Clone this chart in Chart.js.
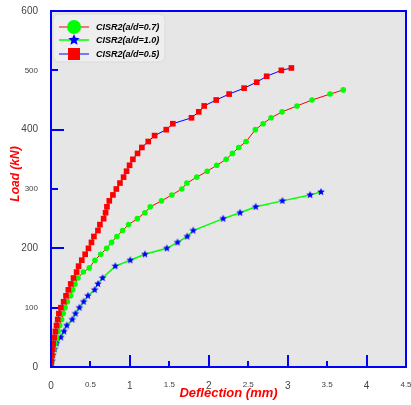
<!DOCTYPE html>
<html>
<head>
<meta charset="utf-8">
<script src="https://cdn.jsdelivr.net/npm/chart.js@4"></script>
<style>
  body { margin: 0; background: #fff; }
  canvas { display: block; }
</style>
</head>
<body>
<canvas id="chart" width="411" height="405"></canvas>
<script>
// Series labels
const seriesNames = ["CISR2(a/d=0.7)", "CISR2(a/d=1.0)", "CISR2(a/d=0.5)"];

// a/d = 0.7 (green circles, red line)
const load07 = [0, 10, 20, 30, 40, 50, 60, 70, 80, 90, 100, 110, 120, 130, 140, 150, 160, 167, 180, 190,
    200, 210, 220, 230, 240, 250, 260, 270, 280, 290, 300, 310, 320, 330, 340, 350, 360, 370, 380,
    400, 410, 420, 430, 440, 450, 460, 467];
const defl07 = [0, 0.008, 0.02, 0.035, 0.05, 0.07, 0.09, 0.11, 0.135, 0.155, 0.178, 0.207, 0.249, 0.275, 0.304, 0.342, 0.41, 0.486, 0.557, 0.63,
    0.705, 0.768, 0.835, 0.908, 0.984, 1.094, 1.19, 1.258, 1.401, 1.532, 1.658, 1.722, 1.848, 1.98, 2.101, 2.22, 2.30, 2.38, 2.473,
    2.591, 2.688, 2.79, 2.929, 3.119, 3.309, 3.537, 3.705];

// a/d = 1.0 (blue stars, green line)
const load10 = [0, 10, 20, 30, 40, 50, 60, 70, 80, 90, 100, 110, 120, 130, 140, 150, 170, 180, 190,
    200, 210, 220, 230, 250, 260, 270, 280, 290, 295];
const defl10 = [0, 0.013, 0.025, 0.045, 0.07, 0.125, 0.165, 0.2, 0.27, 0.31, 0.36, 0.414, 0.468, 0.553, 0.595, 0.654, 0.815, 1.005, 1.19,
    1.468, 1.604, 1.727, 1.803, 2.182, 2.397, 2.595, 2.933, 3.284, 3.423];

// a/d = 0.5 (red squares, blue line)
const load05 = [0, 10, 20, 30, 40, 50, 60, 70, 80, 90, 100, 110, 120, 130, 140, 150, 160, 170, 180, 190,
    200, 210, 220, 230, 240, 250, 260, 270, 280, 290, 300, 310, 320, 330, 340, 350, 360, 370, 380, 390,
    400, 410, 420, 430, 440, 450, 460, 470, 480, 490, 500, 504];
const defl05 = [0, 0.005, 0.012, 0.02, 0.028, 0.04, 0.055, 0.07, 0.085, 0.1, 0.125, 0.16, 0.19, 0.22, 0.25, 0.285, 0.325, 0.35, 0.39, 0.433,
    0.475, 0.513, 0.544, 0.595, 0.62, 0.667, 0.692, 0.709, 0.739, 0.785, 0.828, 0.874, 0.92, 0.958, 0.996, 1.038, 1.097, 1.152, 1.233, 1.313,
    1.461, 1.544, 1.781, 1.873, 1.942, 2.094, 2.258, 2.448, 2.608, 2.734, 2.92, 3.047];

// Axis ranges
const xMin = 0, xMax = 4.5, xStep = 0.5;
const yMin = 0, yMax = 600, yStep = 100;
const xTitle = "Deflection (mm)";
const yTitle = "Load (kN)";

function toPoints(xs, ys) {
    return xs.map((x, i) => ({ x: x, y: ys[i] }));
}

// Filled star drawn on a small canvas, used as point style
function makeStar(r, color) {
    const c = document.createElement("canvas");
    const s = Math.ceil(r * 2) + 2;
    c.width = s;
    c.height = s;
    const g = c.getContext("2d");
    g.fillStyle = color;
    g.beginPath();
    for (let i = 0; i < 10; i++) {
        const rad = i % 2 === 0 ? r : r * 0.45;
        const a = -Math.PI / 2 + i * Math.PI / 5;
        g.lineTo(s / 2 + rad * Math.cos(a), s / 2 + rad * Math.sin(a));
    }
    g.closePath();
    g.fill();
    return c;
}

const starSmall = makeStar(4, "#0000ff");
const starLegend = makeStar(6, "#0000ff");

const AXIS_BLUE = "#0000ff";
const FONT = "'Liberation Sans', Arial, sans-serif";

// Background, inner ticks, frame, legend and titles
const framePlugin = {
    id: "frame",
    beforeDraw(chart) {
        const ctx = chart.ctx;
        const a = chart.chartArea;
        ctx.save();
        ctx.fillStyle = "#ffffff";
        ctx.fillRect(0, 0, chart.width, chart.height);
        ctx.fillStyle = "#e6e6e6";
        ctx.fillRect(a.left, a.top, a.right - a.left, a.bottom - a.top);
        ctx.restore();
    },
    afterDraw(chart) {
        const ctx = chart.ctx;
        const a = chart.chartArea;
        const xs = chart.scales.x;
        const ys = chart.scales.y;
        ctx.save();

        // ticks pointing into the plot
        ctx.strokeStyle = AXIS_BLUE;
        ctx.lineWidth = 2;
        xs.ticks.forEach(t => {
            const px = Math.round(xs.getPixelForValue(t.value));
            const len = t.value % 1 === 0 ? 12 : 6;
            ctx.beginPath();
            ctx.moveTo(px, a.bottom);
            ctx.lineTo(px, a.bottom - len);
            ctx.stroke();
        });
        ys.ticks.forEach(t => {
            const py = Math.round(ys.getPixelForValue(t.value));
            const len = t.value % 200 === 0 ? 13 : 7;
            ctx.beginPath();
            ctx.moveTo(a.left, py);
            ctx.lineTo(a.left + len, py);
            ctx.stroke();
        });

        // frame
        ctx.strokeRect(a.left, a.top, a.right - a.left, a.bottom - a.top);

        // legend
        const lx = 53, ly = 14, lw = 112, lh = 48;
        ctx.fillStyle = "#eeeeee";
        ctx.strokeStyle = "#dadada";
        ctx.lineWidth = 1;
        ctx.beginPath();
        ctx.roundRect(lx, ly, lw, lh, 6);
        ctx.fill();
        ctx.stroke();

        const rowY = [27, 40, 54];
        chart.data.datasets.forEach((ds, i) => {
            const y = rowY[i];
            ctx.strokeStyle = ds.borderColor;
            ctx.lineWidth = ds.borderWidth;
            ctx.beginPath();
            ctx.moveTo(59, y);
            ctx.lineTo(89, y);
            ctx.stroke();
            ctx.fillStyle = ds.pointBackgroundColor;
            if (ds.pointStyle === "circle") {
                ctx.beginPath();
                ctx.arc(74, y, 7, 0, Math.PI * 2);
                ctx.fill();
            } else if (ds.pointStyle === "rect") {
                ctx.fillRect(68, y - 6, 12, 12);
            } else {
                ctx.drawImage(starLegend, 74 - starLegend.width / 2, y - starLegend.height / 2);
            }
            ctx.fillStyle = "#000000";
            ctx.font = "italic bold 9px " + FONT;
            ctx.textAlign = "left";
            ctx.textBaseline = "middle";
            ctx.fillText(ds.label, 96, y + 0.5);
        });

        // axis titles
        ctx.fillStyle = "#ff0000";
        ctx.textAlign = "center";
        ctx.textBaseline = "middle";
        ctx.font = "italic bold 13px " + FONT;
        ctx.fillText(xTitle, (a.left + a.right) / 2, 393);
        ctx.save();
        ctx.translate(16, 174);
        ctx.rotate(-Math.PI / 2);
        ctx.font = "italic bold 12px " + FONT;
        ctx.fillText(yTitle, 0, 0);
        ctx.restore();

        ctx.restore();
    }
};

const ctx = document.getElementById("chart").getContext("2d");

new Chart(ctx, {
    type: "scatter",
    data: {
        datasets: [
            {
                label: seriesNames[0],
                data: toPoints(defl07, load07),
                showLine: true,
                borderColor: "#ff0000",
                borderWidth: 1,
                pointStyle: "circle",
                pointRadius: 2.8,
                pointBorderWidth: 0,
                pointBackgroundColor: "#00ff00",
                order: 1
            },
            {
                label: seriesNames[1],
                data: toPoints(defl10, load10),
                showLine: true,
                borderColor: "#00ff00",
                borderWidth: 1.5,
                pointStyle: starSmall,
                pointRadius: 4,
                pointBorderWidth: 0,
                pointBackgroundColor: "#0000ff",
                order: 2
            },
            {
                label: seriesNames[2],
                data: toPoints(defl05, load05),
                showLine: true,
                borderColor: "#0000ff",
                borderWidth: 1,
                pointStyle: "rect",
                pointRadius: 4,
                pointBorderWidth: 0,
                pointBackgroundColor: "#ff0000",
                order: 0
            }
        ]
    },
    options: {
        responsive: false,
        animation: false,
        layout: { padding: { top: 11, right: 5, left: 0, bottom: 0 } },
        plugins: {
            legend: { display: false },
            tooltip: { enabled: false }
        },
        scales: {
            x: {
                type: "linear",
                min: xMin,
                max: xMax,
                grid: { display: false },
                border: { display: false },
                ticks: {
                    stepSize: xStep,
                    padding: 5,
                    color: "#444444",
                    maxRotation: 0,
                    autoSkip: false,
                    callback: v => String(v),
                    font: c => ({
                        family: FONT,
                        size: c.tick && c.tick.value % 1 === 0 ? 10 : 8
                    })
                },
                afterFit(s) {
                    s.height = 38;
                    s.paddingLeft = 0;
                    s.paddingRight = 0;
                }
            },
            y: {
                type: "linear",
                min: yMin,
                max: yMax,
                grid: { display: false },
                border: { display: false },
                ticks: {
                    stepSize: yStep,
                    padding: 5,
                    color: "#444444",
                    autoSkip: false,
                    callback: v => String(v),
                    font: c => ({
                        family: FONT,
                        size: c.tick && c.tick.value % 200 === 0 ? 10 : 8
                    })
                },
                afterFit(s) {
                    s.width = 51;
                    s.paddingTop = 0;
                    s.paddingBottom = 0;
                }
            }
        }
    },
    plugins: [framePlugin]
});
</script>
</body>
</html>
